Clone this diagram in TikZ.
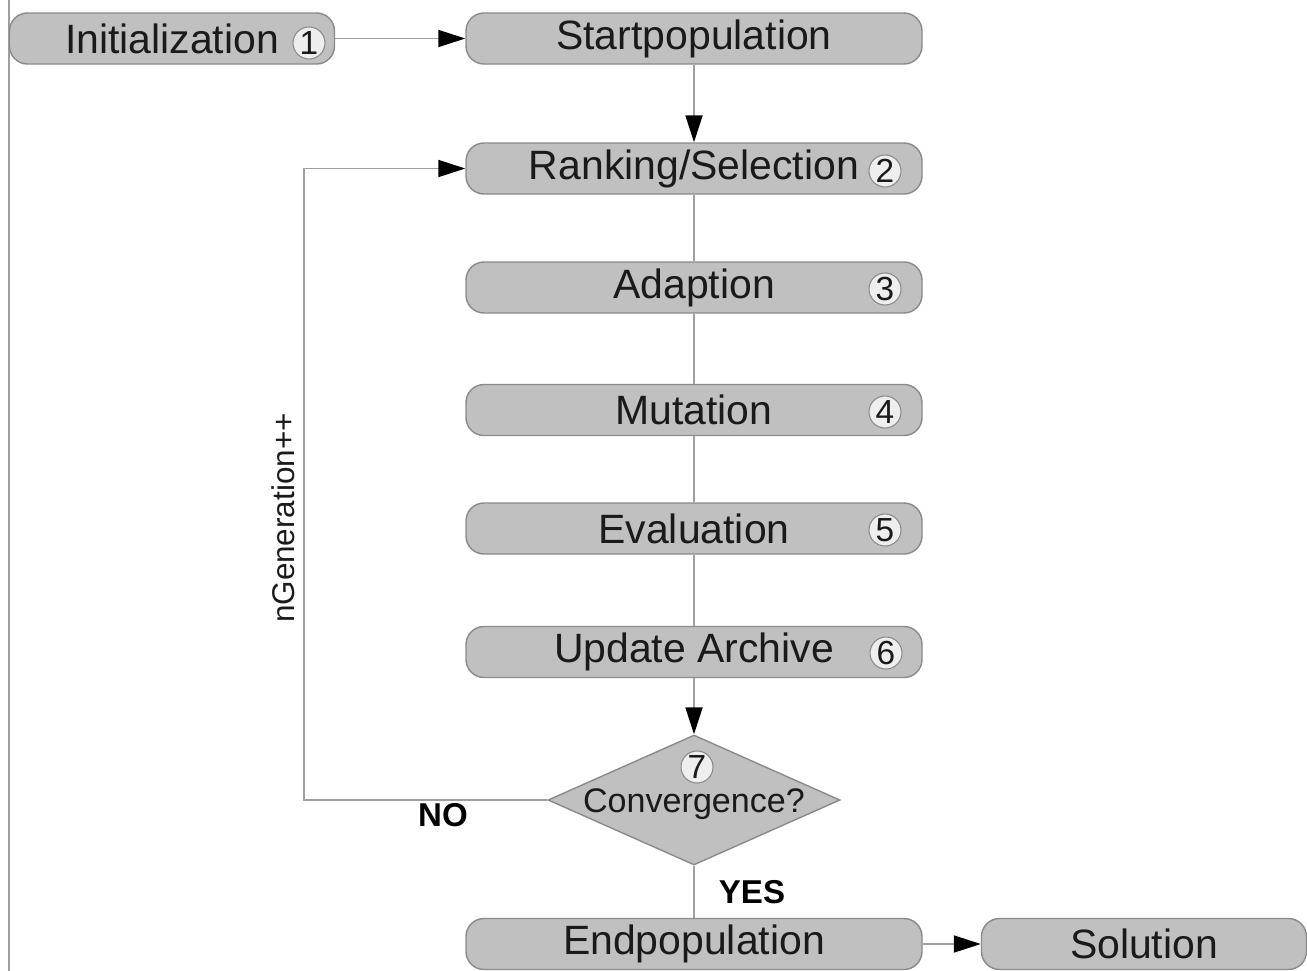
\documentclass[tikz,border=0pt]{standalone}
\usepackage{fontspec}
\setmainfont{Liberation Sans}
\usepackage{tikz}
\usetikzlibrary{shapes.geometric, arrows.meta, positioning, calc}
\definecolor{boxgray}{HTML}{C0C0C0}
\definecolor{edgegray}{HTML}{8A8A8A}
\definecolor{linegray}{HTML}{A0A0A0}
\definecolor{circfill}{HTML}{EEEEEE}
\definecolor{textdark}{HTML}{1A1A1A}
\tikzset{
  stage/.style={
    rectangle, draw=edgegray, fill=boxgray, line width=0.8pt,
    rounded corners=0.36cm,
    minimum width=9.12cm, minimum height=1.02cm,
    align=center, font=\fontsize{23.3}{26}\selectfont, text=textdark,
    inner sep=0pt,
  },
  stage short/.style={stage, minimum width=6.5cm},
  decision/.style={
    diamond, draw=edgegray, fill=boxgray, line width=0.8pt,
    minimum width=5.84cm, minimum height=2.6cm, inner sep=0pt,
  },
  numcirc/.style={
    circle, draw=edgegray, fill=circfill, line width=0.6pt,
    minimum size=0.64cm, inner sep=0pt,
    font=\fontsize{19}{20}\selectfont, text=textdark,
  },
  link/.style={
    line width=1.1pt, draw=linegray,
  },
  arrow/.style={
    link, -{Triangle[length=0.54cm, width=0.34cm, color=black]},
  },
  tlabel/.style={
    font=\fontsize{18.8}{21}\selectfont\bfseries, text=black,
  }
}

\begin{document}
\begin{tikzpicture}

  \useasboundingbox (0,0) rectangle (26.14,-19.42);
  \draw[linegray, line width=0.8pt] (0.18,0) -- (0.18,-19.42);

  \node[stage short] (init)  at (3.44,-0.77)  {Initialization};
  \node[stage]       (start) at (13.88,-0.77) {Startpopulation};
  \node[stage]       (rank)  at (13.88,-3.37) {Ranking/Selection};
  \node[stage]       (adapt) at (13.88,-5.75) {Adaption};
  \node[stage]       (mut)   at (13.88,-8.2)  {Mutation};
  \node[stage]       (eval)  at (13.88,-10.57){Evaluation};
  \node[stage]       (upd)   at (13.88,-13.04){Update Archive};
  \node[decision]    (conv)  at (13.88,-16.0) {};
  \node[stage]       (endp)  at (13.88,-18.88){Endpopulation};
  \node[stage short] (sol)   at (22.88,-18.88){Solution};

  \node[font=\fontsize{19.4}{22}\selectfont, text=textdark]
    (convtxt) at (13.88,-16.08) {Convergence?};

  \node[numcirc] (n1) at (6.18,-0.86)  {1};
  \node[numcirc] (n2) at (17.7,-3.42)  {2};
  \node[numcirc] (n3) at (17.7,-5.78)  {3};
  \node[numcirc] (n4) at (17.7,-8.24)  {4};
  \node[numcirc] (n5) at (17.7,-10.6)  {5};
  \node[numcirc] (n6) at (17.72,-13.06){6};
  \node[numcirc] (n7) at (13.94,-15.34){7};

  \coordinate (loopbot) at (6.08,-16.0);
  \coordinate (looptop) at (6.08,-3.37);

  \draw[arrow] (init) -- (start);
  \draw[arrow] (start) -- (rank);
  \draw[link]  (rank) -- (adapt);
  \draw[link]  (adapt) -- (mut);
  \draw[link]  (mut) -- (eval);
  \draw[link]  (eval) -- (upd);
  \draw[arrow] (upd) -- (conv);
  \draw[link]  (conv) -- (endp);
  \draw[arrow] (endp) -- (sol);
  \draw[arrow] (conv.west) -- (loopbot) -- (looptop) -- (rank.west);

  \node[font=\fontsize{17.9}{20}\selectfont, text=textdark, rotate=90]
    (ngen) at (5.66,-10.36) {nGeneration++};
  \node[tlabel] (no)  at (8.86,-16.3)  {NO};
  \node[tlabel] (yes) at (15.04,-17.84) {YES};

\end{tikzpicture}
\end{document}
